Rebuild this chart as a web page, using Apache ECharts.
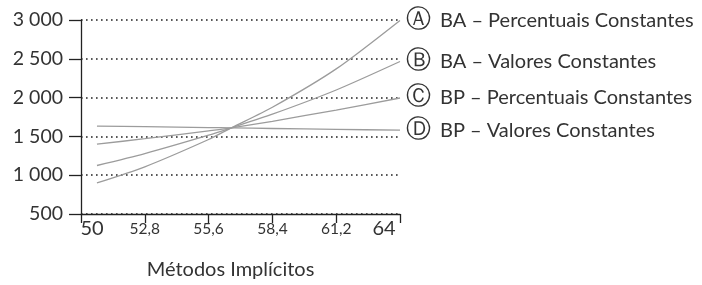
<!DOCTYPE html>
<html>
<head>
<meta charset="utf-8">
<script src="https://cdn.jsdelivr.net/npm/echarts@6/dist/echarts.min.js"></script>
<style>
  html, body { margin: 0; padding: 0; background: #fff; }
  #main { width: 702px; height: 285px; }
</style>
</head>
<body>
<div id="main"></div>
<script>
    // dados
    var xValues = [50.7, 52.8, 55.6, 56.6, 58.4, 61.2, 64]
    var baPercentuais = [900, 1108, 1460, 1610, 1875, 2370, 2995]
    var baValores = [1125, 1278, 1515, 1610, 1786, 2098, 2465]
    var bpPercentuais = [1400, 1470, 1572, 1610, 1695, 1840, 1995]
    var bpValores = [1632, 1625, 1614, 1610, 1602, 1591, 1580]

    var xTicks = [50, 52.8, 55.6, 58.4, 61.2, 64]
    var seriesNames = ['BA – Percentuais Constantes', 'BA – Valores Constantes', 'BP – Percentuais Constantes', 'BP – Valores Constantes']
    var letters = ['Ⓐ', 'Ⓑ', 'Ⓒ', 'Ⓓ']
    var seriesValues = [baPercentuais, baValores, bpPercentuais, bpValores]

    var fontName = 'Lato'
    var myChart = echarts.init(document.getElementById('main'))

    function pairs(ys) {
        return xValues.map(function (x, i) { return [x, ys[i]] })
    }

    var series = seriesValues.map(function (vals, i) {
        return {
            name: seriesNames[i],
            type: 'line',
            data: pairs(vals),
            showSymbol: false,
            symbol: 'none',
            smooth: 0.25,
            lineStyle: { color: '#9c9c9c', width: 1.3 },
            endLabel: {
                show: true,
                distance: 6,
                formatter: '{c|' + letters[i] + '}{t|' + seriesNames[i] + '}',
                rich: {
                    c: { fontFamily: 'DejaVu Sans', fontSize: 25, color: '#333', width: 34 },
                    t: { fontFamily: fontName, fontSize: 20, color: '#333' }
                }
            }
        }
    })

    var option = {
        animation: false,
        grid: { left: 81, right: 302, top: 20, bottom: 71, containLabel: false },
        xAxis: {
            type: 'value',
            min: 50,
            max: 64,
            name: 'Métodos Implícitos',
            nameLocation: 'middle',
            nameGap: 46,
            nameTextStyle: { fontFamily: fontName, fontSize: 20, color: '#333', padding: [0, 20, 0, 0] },
            axisLine: { show: true, lineStyle: { color: '#222', width: 1.3 } },
            axisTick: { show: true, length: 9, customValues: xTicks, lineStyle: { color: '#222', width: 1.3 } },
            splitLine: { show: false },
            axisLabel: {
                customValues: xTicks,
                margin: 5,
                formatter: function (v) {
                    var s = String(v).replace('.', ',')
                    if (v === 50) return '{first|' + s + '}'
                    if (v === 64) return '{last|' + s + '}'
                    return '{s|' + s + '}'
                },
                rich: {
                    first: { fontFamily: fontName, fontSize: 20, color: '#333', padding: [0, 0, 0, 22], verticalAlign: 'bottom', height: 20 },
                    last: { fontFamily: fontName, fontSize: 20, color: '#333', padding: [0, 32, 0, 0], verticalAlign: 'bottom', height: 20 },
                    s: { fontFamily: fontName, fontSize: 15.5, color: '#333', verticalAlign: 'bottom', height: 20 }
                }
            }
        },
        yAxis: {
            type: 'value',
            min: 500,
            max: 3000,
            interval: 500,
            axisLine: { show: true, lineStyle: { color: '#222', width: 1.3 } },
            axisTick: { show: true, length: 12, lineStyle: { color: '#222', width: 1.3 } },
            axisLabel: {
                margin: 18,
                fontFamily: fontName,
                fontSize: 19.5,
                color: '#333',
                formatter: function (v) {
                    return v >= 1000 ? Math.floor(v / 1000) + ' ' + String(v % 1000).padStart(3, '0') : String(v)
                }
            },
            splitLine: { show: true, lineStyle: { color: '#222', width: 1.6, type: [1.6, 3.4] } }
        },
        series: series
    }

    myChart.setOption(option)
</script>
</body>
</html>
